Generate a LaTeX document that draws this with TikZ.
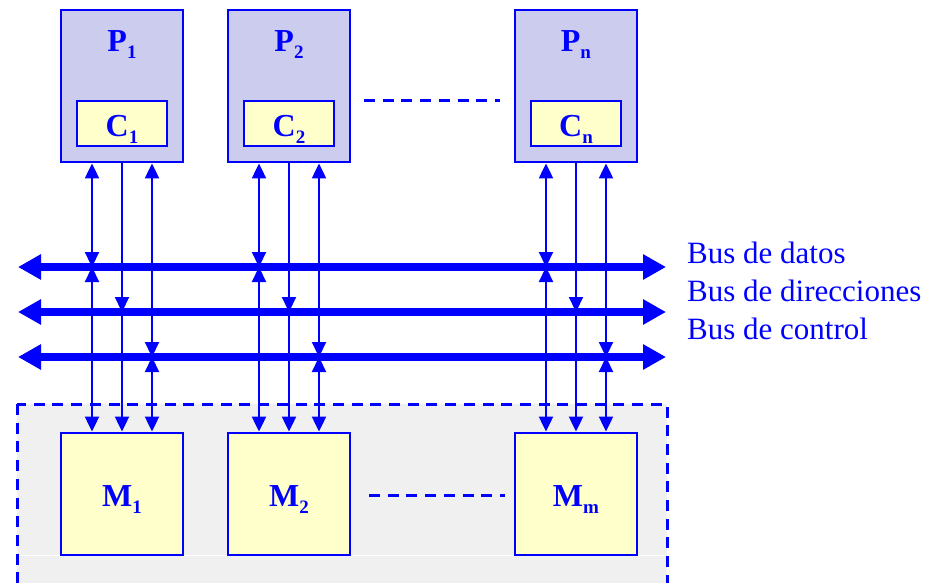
\documentclass[tikz,border=0pt]{standalone}
\usepackage{fontspec}
\setmainfont{Liberation Serif}
\usetikzlibrary{arrows.meta}
\definecolor{bl}{RGB}{0,0,255}
\definecolor{pfill}{RGB}{204,204,238}
\definecolor{yfill}{RGB}{255,255,204}
\definecolor{gbg}{RGB}{240,240,240}
\newcommand\sbs[1]{\raisebox{-7pt}{\fontsize{19}{19}\selectfont #1}}
\begin{document}
\begin{tikzpicture}[x=1pt,y=-1pt,
  box/.style={draw=bl, line width=2.9pt, inner sep=0pt},
  pbox/.style={box, fill=pfill, minimum width=122pt, minimum height=152pt},
  cbox/.style={box, fill=yfill, minimum width=90pt, minimum height=45pt},
  mbox/.style={box, fill=yfill, minimum width=122pt, minimum height=122pt},
  lab/.style={text=bl, font=\fontsize{32}{36}\selectfont\bfseries, anchor=base, inner sep=0pt},
  buslab/.style={text=bl, font=\fontsize{31}{36}\selectfont, anchor=base west, inner sep=0pt},
  va/.style={draw=bl, line width=2.2pt},
  >={Triangle[length=15pt,width=14pt]},
  busline/.style={draw=bl, line width=8pt, {Triangle[length=23pt,width=24pt]}-{Triangle[length=23pt,width=24pt]}},
  dots/.style={draw=bl, line width=3pt, dash pattern=on 11pt off 7.7pt}
]
\useasboundingbox (0,0) rectangle (930,583);
\clip (0,0) rectangle (930,583);

% memory region
\draw[bl, line width=3pt, dash pattern=on 11pt off 7.7pt, fill=gbg] (17,404) rectangle (667,600);
\draw[white, line width=1pt] (19,555) -- (665,555);

% processors
\foreach \n/\cx/\s in {1/122/1, 2/289/2, n/576/n} {
  \node[pbox] (P\n) at (\cx,86) {};
  \node[cbox] (C\n) at (\cx,123.5) {};
  \node[lab] (P\n lbl) at (\cx,52) {P\sbs{\s}};
  \node[lab] (C\n lbl) at (\cx,137) {C\sbs{\s}};
}
% memories
\foreach \n/\cx/\s in {1/122/1, 2/289/2, m/576/m} {
  \node[mbox] (M\n) at (\cx,494) {};
  \node[lab] (M\n lbl) at (\cx,506) {M\sbs{\s}};
}

\coordinate (pd1) at (364,101); \coordinate (pd2) at (500,101);
\coordinate (md1) at (369,495); \coordinate (md2) at (505,495);
\draw[dots] (pd1) -- (pd2);
\draw[dots] (md1) -- (md2);

% buses
\coordinate (bdL) at (18,267); \coordinate (bdR) at (666,267);
\coordinate (baL) at (18,312); \coordinate (baR) at (666,312);
\coordinate (bcL) at (18,357); \coordinate (bcR) at (666,357);
\draw[busline] (bdL) -- (bdR);
\draw[busline] (baL) -- (baR);
\draw[busline] (bcL) -- (bcR);

\node[buslab] (ld) at (687,263) {Bus de datos};
\node[buslab] (la) at (687,301) {Bus de direcciones};
\node[buslab] (lc) at (687,339) {Bus de control};

% vertical connections
\foreach \p/\m in {1/1, 2/2, n/m} {
  % data
  \draw[va,<->] ([xshift=-30pt]P\p.south) -- ([xshift=-30pt]P\p.south |- bdL);
  \draw[va,<->] ([xshift=-30pt]M\m.north |- bdL) -- ([xshift=-30pt]M\m.north);
  % address
  \draw[va,->] (P\p.south) -- (P\p.south |- baL);
  \draw[va,->] (M\m.north |- baL) -- (M\m.north);
  % control
  \draw[va,<->] ([xshift=30pt]P\p.south) -- ([xshift=30pt]P\p.south |- bcL);
  \draw[va,<->] ([xshift=30pt]M\m.north |- bcL) -- ([xshift=30pt]M\m.north);
}
\end{tikzpicture}
\end{document}
